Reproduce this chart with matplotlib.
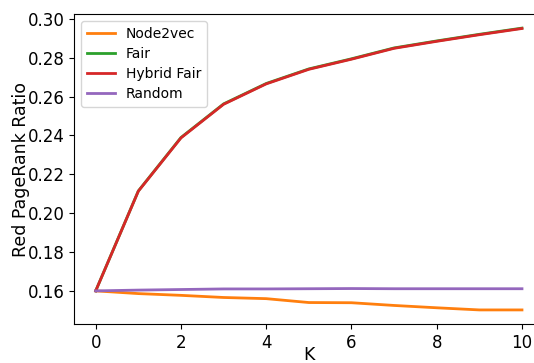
import matplotlib
matplotlib.use("Agg")
import matplotlib.pyplot as plt

# Top-K values and the red-group PageRank share for each method
k_values = [0, 1, 2, 3, 4, 5, 6, 7, 8, 9, 10]
node2vec = [0.1600, 0.1586, 0.1577, 0.1566, 0.1560, 0.1540, 0.1539, 0.1525, 0.1513, 0.1502, 0.1502]
fair = [0.1600, 0.2114, 0.2389, 0.2562, 0.2667, 0.2742, 0.2794, 0.2850, 0.2886, 0.2920, 0.2952]
hybrid_fair = [0.1600, 0.2113, 0.2387, 0.2560, 0.2665, 0.2740, 0.2792, 0.2848, 0.2884, 0.2918, 0.2950]
random_walk = [0.1600, 0.1604, 0.1607, 0.1610, 0.1610, 0.1611, 0.1612, 0.1611, 0.1611, 0.1611, 0.1611]

series = [
    ("Node2vec", node2vec, "#ff7f0e"),
    ("Fair", fair, "#2ca02c"),
    ("Hybrid Fair", hybrid_fair, "#d62728"),
    ("Random", random_walk, "#9467bd"),
]

fig = plt.figure(figsize=(5.34, 3.63), dpi=100)
ax = fig.add_axes([0.1393, 0.1074, 0.8781, 0.854])

for label, values, color in series:
    ax.plot(k_values, values, color=color, lw=2, label=label)

ax.spines["right"].set_visible(False)
ax.set_xticks([0, 2, 4, 6, 8, 10])
ax.set_yticks([0.16, 0.18, 0.20, 0.22, 0.24, 0.26, 0.28, 0.30])
ax.tick_params(labelsize=12)
ax.set_xlabel("K", fontsize=12.5, labelpad=-4)
ax.set_ylabel("Red PageRank Ratio", fontsize=12.5, labelpad=-2)

ax.legend(loc="upper left", fontsize=10, labelspacing=0.45,
          handlelength=2.0, borderaxespad=0.5)

fig.savefig("out.png", dpi=100)
